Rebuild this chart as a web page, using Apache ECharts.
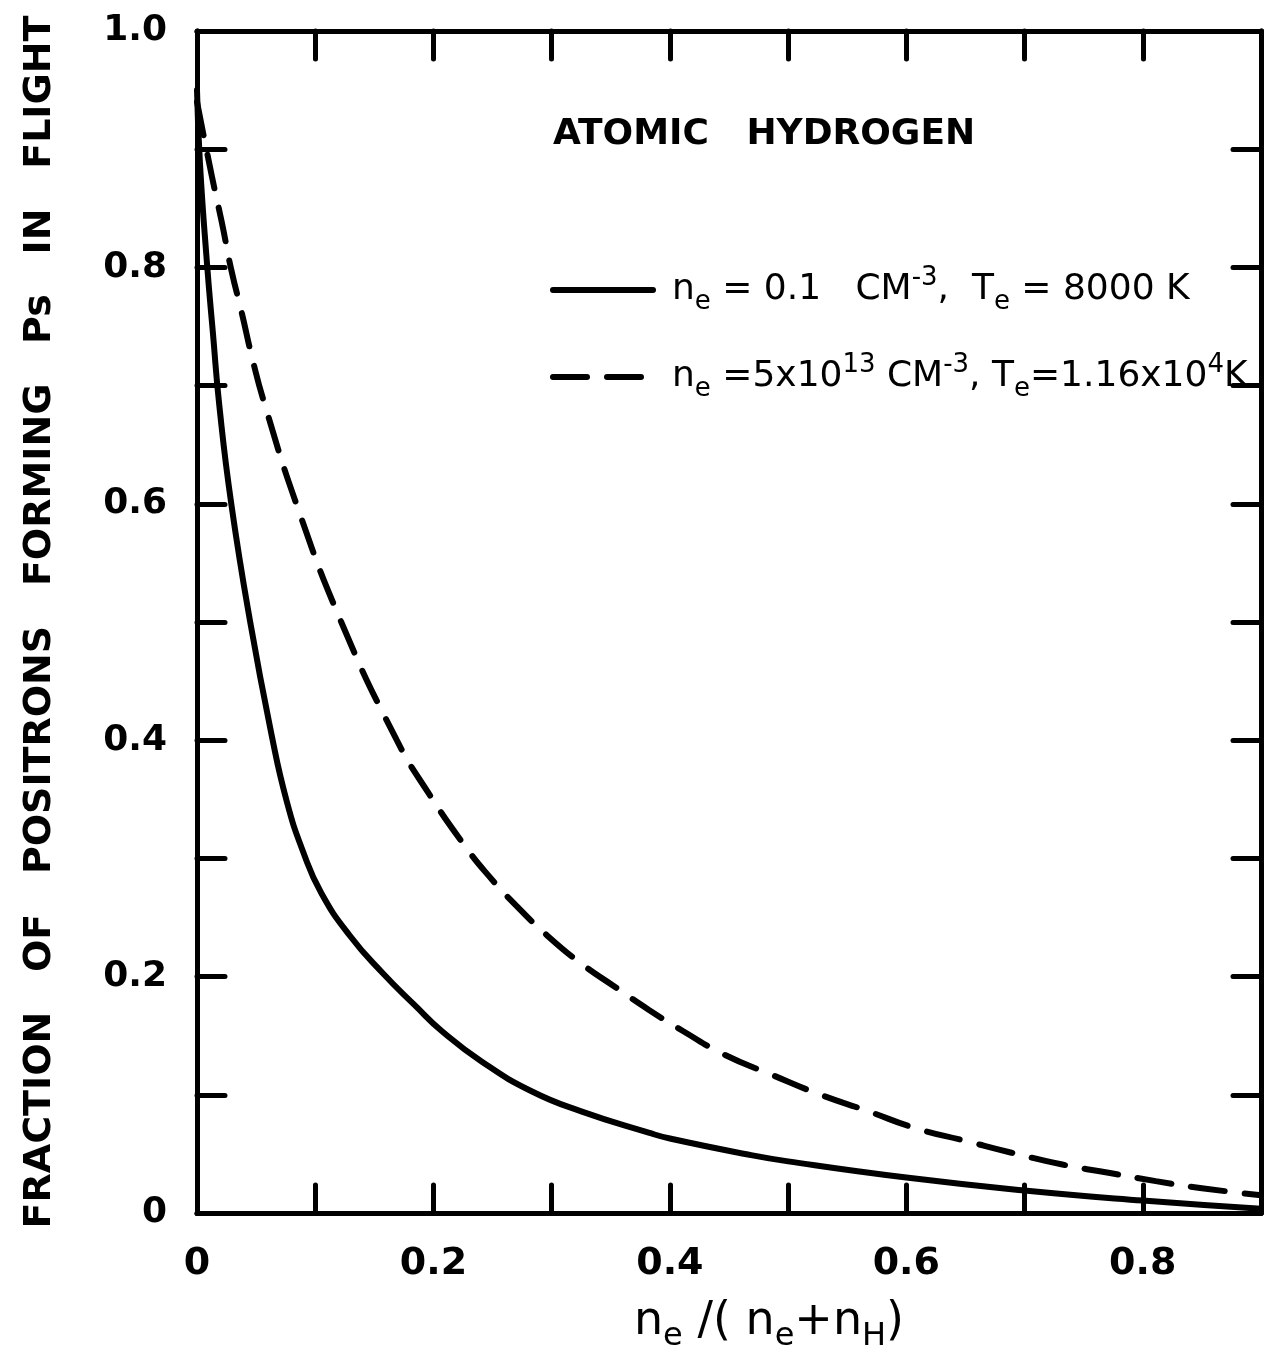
<!DOCTYPE html>
<html>
<head>
<meta charset="utf-8">
<script src="https://cdn.jsdelivr.net/npm/echarts@6/dist/echarts.min.js"></script>
<style>
  html, body { margin: 0; padding: 0; background: #fff; }
  #chart { width: 1265px; height: 1364px; }
</style>
</head>
<body>
<div id="chart"></div>
<script>
// ---- data ----
const xSolid = [0, 0.0025, 0.0084, 0.0135, 0.019, 0.029, 0.045, 0.063, 0.076, 0.09, 0.105, 0.129, 0.157, 0.185, 0.207, 0.241, 0.283, 0.325, 0.382, 0.4, 0.466, 0.5, 0.6, 0.7, 0.8, 0.9];
const ySolid = [0.95, 0.888, 0.804, 0.744, 0.682, 0.60, 0.50, 0.405, 0.348, 0.305, 0.271, 0.235, 0.203, 0.175, 0.154, 0.128, 0.103, 0.086, 0.068, 0.063, 0.0495, 0.0437, 0.030, 0.019, 0.0105, 0.0035];

const xDashed = [0, 0.0126, 0.021, 0.029, 0.038, 0.047, 0.057, 0.084, 0.122, 0.169, 0.196, 0.227, 0.247, 0.270, 0.297, 0.325, 0.354, 0.382, 0.411, 0.446, 0.486, 0.525, 0.568, 0.607, 0.65, 0.689, 0.732, 0.771, 0.811, 0.85, 0.9];
const yDashed = [0.94, 0.877, 0.838, 0.798, 0.761, 0.722, 0.685, 0.60, 0.50, 0.40, 0.355, 0.310, 0.285, 0.260, 0.234, 0.211, 0.191, 0.172, 0.154, 0.134, 0.117, 0.101, 0.086, 0.072, 0.061, 0.051, 0.041, 0.034, 0.027, 0.021, 0.015];

const xTickLabels = ['0', '', '0.2', '', '0.4', '', '0.6', '', '0.8', ''];
const yTickLabels = ['0', '', '0.2', '', '0.4', '', '0.6', '', '0.8', '', '1.0'];

const seriesNames = ['n_e = 0.1 CM^-3, T_e = 8000 K', 'n_e = 5 x 10^13 CM^-3, T_e = 1.16 x 10^4 K'];
const legendRich = [
  '{gap|}{t|n}{sub|e}{t| = 0.1   CM}{sup|-3}{t|,  T}{sub|e}{t| = 8000 K}',
  '{gap|}{t|n}{sub|e}{t| =5x10}{sup|13}{t| CM}{sup|-3}{t|, T}{sub|e}{t|=1.16x10}{sup|4}{t|K}'
];
const titleText = 'ATOMIC   HYDROGEN';
const yTitle = 'FRACTION   OF   POSITRONS   FORMING   Ps   IN   FLIGHT';

// ---- chart ----
const FONT = 'DejaVu Sans';
const chart = echarts.init(document.getElementById('chart'), null, { renderer: 'canvas' });

function pairs(xs, ys) { return xs.map((x, i) => [x, ys[i]]); }
function idx(v) { return Math.round(v * 10); }

const axisLineStyle = { color: '#000', width: 5 };
const tickStyle = { color: '#000', width: 5, cap: 'round' };

const option = {
  backgroundColor: '#fff',
  animation: false,
  title: {
    text: titleText,
    left: 548,
    top: 112,
    textStyle: { fontFamily: FONT, fontSize: 36, fontWeight: 'bold', color: '#000' }
  },
  legend: {
    orient: 'vertical',
    left: 545,
    top: 260,
    itemWidth: 100,
    itemHeight: 24,
    itemGap: 37,
    data: seriesNames,
    itemStyle: { opacity: 0 },
    lineStyle: { width: 6, color: '#000', cap: 'round' },
    formatter: function (name) { return legendRich[seriesNames.indexOf(name)]; },
    textStyle: {
      color: '#000',
      rich: {
        gap: { width: 14 },
        t: { fontFamily: FONT, fontSize: 36, color: '#000' },
        sub: { fontFamily: FONT, fontSize: 26, color: '#000', padding: [24, 0, 0, 0] },
        sup: { fontFamily: FONT, fontSize: 26, color: '#000', padding: [0, 0, 24, 0] }
      }
    }
  },
  grid: { left: 197, top: 31, right: 4, bottom: 151, containLabel: false },
  xAxis: [
    {
      type: 'value', min: 0, max: 0.9, interval: 0.1, position: 'bottom',
      axisLine: { show: true, onZero: false, lineStyle: axisLineStyle },
      axisTick: { show: true, inside: true, length: 28, lineStyle: tickStyle },
      splitLine: { show: false },
      axisLabel: {
        margin: 32, fontFamily: FONT, fontSize: 38, fontWeight: 'bold', color: '#000',
        formatter: function (v) { return xTickLabels[idx(v)] || ''; }
      },
      name: '{n|n}{sub|e}{n| /( n}{sub|e}{n|+n}{sub|H}{n|)}',
      nameLocation: 'middle',
      nameGap: 78,
      nameTextStyle: {
        padding: [0, 0, 0, 80],
        rich: {
          n: { fontFamily: FONT, fontSize: 46, color: '#000' },
          sub: { fontFamily: FONT, fontSize: 32, color: '#000', padding: [30, 0, 0, 0] }
        }
      }
    },
    {
      type: 'value', min: 0, max: 0.9, interval: 0.1, position: 'top',
      axisLine: { show: true, onZero: false, lineStyle: axisLineStyle },
      axisTick: { show: true, inside: true, length: 28, lineStyle: tickStyle },
      splitLine: { show: false },
      axisLabel: { show: false }
    }
  ],
  yAxis: [
    {
      type: 'value', min: 0, max: 1.0, interval: 0.1, position: 'left',
      axisLine: { show: true, onZero: false, lineStyle: axisLineStyle },
      axisTick: { show: true, inside: true, length: 28, lineStyle: tickStyle },
      splitLine: { show: false },
      axisLabel: {
        margin: 30, fontFamily: FONT, fontSize: 36, fontWeight: 'bold', color: '#000',
        formatter: function (v) { return yTickLabels[idx(v)] || ''; }
      },
      name: yTitle,
      nameLocation: 'middle',
      nameRotate: 90,
      nameGap: 138,
      nameTextStyle: { fontFamily: FONT, fontSize: 38, fontWeight: 'bold', color: '#000' }
    },
    {
      type: 'value', min: 0, max: 1.0, interval: 0.1, position: 'right',
      axisLine: { show: true, onZero: false, lineStyle: axisLineStyle },
      axisTick: { show: true, inside: true, length: 28, lineStyle: tickStyle },
      splitLine: { show: false },
      axisLabel: { show: false }
    }
  ],
  series: [
    {
      name: seriesNames[0],
      type: 'line',
      data: pairs(xSolid, ySolid),
      symbol: 'none',
      smooth: 0.5,
      lineStyle: { color: '#000', width: 6, type: 'solid', cap: 'round' },
      itemStyle: { color: '#000' }
    },
    {
      name: seriesNames[1],
      type: 'line',
      data: pairs(xDashed, yDashed),
      symbol: 'none',
      smooth: 0.5,
      lineStyle: { color: '#000', width: 6, type: [34, 20], cap: 'round' },
      itemStyle: { color: '#000' }
    }
  ]
};
chart.setOption(option);
</script>
</body>
</html>
